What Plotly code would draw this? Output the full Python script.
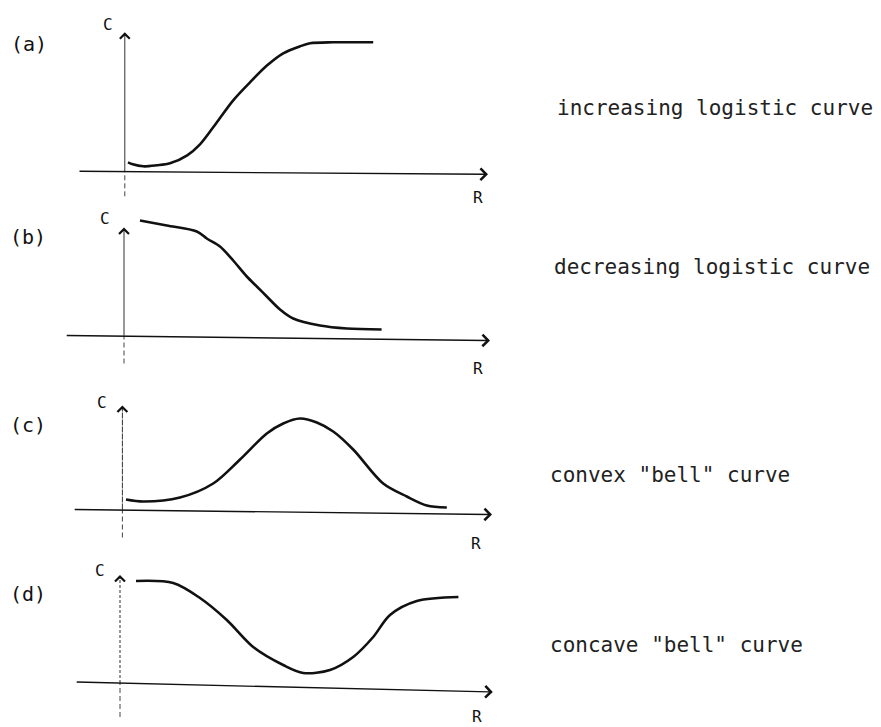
import plotly.graph_objects as go

# ---- curve data: response C against resource R (one list pair per panel) ----
panel_tags = ["(a)", "(b)", "(c)", "(d)"]
panel_names = [
    "increasing logistic curve",
    "decreasing logistic curve",
    'convex "bell" curve',
    'concave "bell" curve',
]
axis_c_label = "C"
axis_r_label = "R"

r_increasing = [0.10, 0.22, 0.48, 0.82, 1.15, 1.58, 1.90, 2.23, 2.73, 3.15, 3.58, 3.98, 4.40, 4.65, 5.23, 6.23]
c_increasing = [0.09, 0.07, 0.05, 0.06, 0.08, 0.16, 0.27, 0.44, 0.71, 0.89, 1.06, 1.18, 1.25, 1.28, 1.29, 1.29]

r_decreasing = [0.40, 1.07, 1.82, 2.07, 2.40, 2.73, 3.07, 3.32, 3.57, 3.90, 4.23, 4.90, 5.57, 6.44]
c_decreasing = [1.15, 1.10, 1.04, 0.97, 0.89, 0.75, 0.59, 0.49, 0.39, 0.26, 0.17, 0.10, 0.07, 0.06]

r_convex = [0.05, 0.48, 1.40, 2.23, 2.90, 3.57, 3.98, 4.40, 4.82, 5.23, 5.73, 6.48, 7.07, 7.57, 8.07]
c_convex = [0.10, 0.08, 0.12, 0.26, 0.50, 0.76, 0.86, 0.91, 0.87, 0.78, 0.60, 0.26, 0.13, 0.04, 0.02]

r_concave = [0.30, 1.23, 1.90, 2.57, 3.23, 3.98, 4.48, 5.15, 5.73, 6.23, 6.65, 7.32, 8.36]
c_concave = [1.02, 1.00, 0.85, 0.63, 0.36, 0.18, 0.10, 0.13, 0.26, 0.46, 0.68, 0.82, 0.86]

curves = [
    (r_increasing, c_increasing),
    (r_decreasing, c_decreasing),
    (r_convex, c_convex),
    (r_concave, c_concave),
]

# ---- page geometry ----
W, H = 881, 727
PX_PER_R = 40.0          # pixels per R unit
PX_PER_C = 100.0         # pixels per C unit
R_ORIGIN_PX = 124.0      # column of the C axis
c_origin_px = [171.3, 335.5, 509.5, 683.0]   # row of each R axis

# hand-drawn axis geometry per panel (R/C units):
#   R axis from (left_r, left_c) to arrow tip (tip_r, tip_c)
#   C axis at column v_r, from v_bottom up to arrow at v_top
r_axis = [(-1.15, 0.00, 9.10, -0.03),
          (-1.47, 0.00, 9.15, -0.05),
          (-1.27, 0.00, 9.20, -0.05),
          (-1.22, 0.01, 9.22, -0.09)]
c_axis = [(0.02, -0.25, 1.39),
          (0.00, -0.28, 1.08),
          (-0.04, -0.28, 1.04),
          (-0.10, -0.34, 1.08)]
c_axis_dash = ["solid", "solid", "6px,1px", "3px,2px"]

# text positions in pixels
tag_pos = [(29, 44), (28, 237), (28, 425), (28, 594)]
c_label_pos = [(108, 24), (105, 218), (102, 402), (100, 570)]
r_label_pos = [(478, 197), (478, 368), (476, 543), (477, 716)]
name_pos = [(555, 108), (552, 267), (548, 475), (548, 645)]

INK = "#111111"
FONT = "DejaVu Sans Mono"

fig = go.Figure()

x_range = [(0 - R_ORIGIN_PX) / PX_PER_R, (W - R_ORIGIN_PX) / PX_PER_R]
yaxis_names = ["y", "y2", "y3", "y4"]

for k, (rv, cv) in enumerate(curves):
    fig.add_trace(go.Scatter(
        x=rv, y=cv, mode="lines", yaxis=yaxis_names[k], xaxis="x",
        line=dict(color=INK, width=2.6, shape="spline", smoothing=0.9),
        hoverinfo="skip", showlegend=False,
    ))

layout_axes = {}
for k in range(4):
    y0 = c_origin_px[k]
    rng = [(y0 - H) / PX_PER_C, y0 / PX_PER_C]
    key = "yaxis" if k == 0 else f"yaxis{k + 1}"
    ax = dict(range=rng, domain=[0, 1], visible=False, fixedrange=True)
    if k > 0:
        ax["overlaying"] = "y"
    layout_axes[key] = ax

shapes = []
annotations = []

for k in range(4):
    yref = yaxis_names[k]
    lr, lc, tr, tc = r_axis[k]
    # R axis with arrowhead
    annotations.append(dict(
        x=tr, y=tc, ax=lr, ay=lc, xref="x", yref=yref, axref="x", ayref=yref,
        showarrow=True, arrowhead=4, arrowsize=1.6, arrowwidth=1.4,
        arrowcolor=INK, text="", standoff=0,
    ))
    vr, vb, vt = c_axis[k]
    # C axis above the R axis
    shapes.append(dict(
        type="line", xref="x", yref=yref, x0=vr, x1=vr, y0=0, y1=vt - 0.02,
        line=dict(color="#333333", width=1, dash=c_axis_dash[k]),
    ))
    # dashed continuation below the R axis
    shapes.append(dict(
        type="line", xref="x", yref=yref, x0=vr, x1=vr, y0=vb, y1=0,
        line=dict(color="#444444", width=1, dash="5px,3px"),
    ))
    # arrowhead on the C axis
    annotations.append(dict(
        x=vr, y=vt, ax=vr, ay=vt - 0.05, xref="x", yref=yref, axref="x", ayref=yref,
        showarrow=True, arrowhead=4, arrowsize=1.6, arrowwidth=1.2,
        arrowcolor=INK, text="", standoff=0,
    ))

def paper(px, py):
    return px / W, 1 - py / H

for k in range(4):
    x, y = paper(*tag_pos[k])
    annotations.append(dict(x=x, y=y, xref="paper", yref="paper", text=panel_tags[k],
                            showarrow=False, xanchor="center", yanchor="middle",
                            font=dict(family=FONT, size=20, color=INK)))
    x, y = paper(*c_label_pos[k])
    annotations.append(dict(x=x, y=y, xref="paper", yref="paper", text=axis_c_label,
                            showarrow=False, xanchor="center", yanchor="middle",
                            font=dict(family=FONT, size=16, color=INK)))
    x, y = paper(*r_label_pos[k])
    annotations.append(dict(x=x, y=y, xref="paper", yref="paper", text=axis_r_label,
                            showarrow=False, xanchor="center", yanchor="middle",
                            font=dict(family=FONT, size=16, color=INK)))
    x, y = paper(*name_pos[k])
    annotations.append(dict(x=x, y=y, xref="paper", yref="paper", text=panel_names[k],
                            showarrow=False, xanchor="left", yanchor="middle",
                            font=dict(family=FONT, size=21, color="#222222")))

fig.update_layout(
    width=W, height=H,
    margin=dict(l=0, r=0, t=0, b=0),
    paper_bgcolor="white", plot_bgcolor="white",
    showlegend=False,
    xaxis=dict(range=x_range, domain=[0, 1], visible=False, fixedrange=True),
    shapes=shapes, annotations=annotations,
    **layout_axes,
)

fig.write_html("out.html", config=dict(displayModeBar=False))
